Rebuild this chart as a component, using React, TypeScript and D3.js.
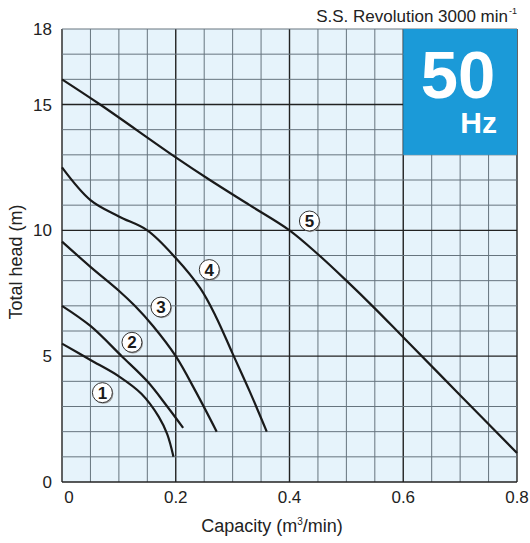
import React from 'react';
import * as d3 from 'd3';

// axis ticks
const capacityTicks = [0, 0.2, 0.4, 0.6, 0.8];
const headTicks = [0, 5, 10, 15, 18];

// pump curves: [capacity m3/min, total head m]
const curve1: [number, number][] = [[0, 5.5], [0.05, 4.85], [0.1, 4.2], [0.14, 3.5], [0.17, 2.6], [0.185, 1.9], [0.196, 1.0]];
const curve2: [number, number][] = [[0, 7.0], [0.05, 6.2], [0.105, 5.0], [0.15, 4.0], [0.185, 3.0], [0.213, 2.15]];
const curve3: [number, number][] = [[0, 9.55], [0.05, 8.55], [0.1, 7.6], [0.128, 7.0], [0.16, 6.2], [0.2, 5.0], [0.235, 3.6], [0.272, 2.0]];
const curve4: [number, number][] = [[0, 12.5], [0.05, 11.2], [0.1, 10.55], [0.15, 10.0], [0.2, 8.9], [0.243, 7.7], [0.27, 6.6], [0.3, 5.1], [0.33, 3.6], [0.36, 2.0]];
const curve5: [number, number][] = [[0, 16.0], [0.067, 15.0], [0.2, 12.9], [0.26, 12.0], [0.33, 11.0], [0.4, 10.0], [0.45, 9.05], [0.5, 8.0], [0.55, 6.9], [0.6, 5.75], [0.7, 3.45], [0.8, 1.15]];
const curves = [curve1, curve2, curve3, curve4, curve5];

// curve number markers
const markerLabels = ['1', '2', '3', '4', '5'];
const markerQ = [0.071, 0.123, 0.174, 0.259, 0.435];
const markerH = [3.55, 5.55, 6.95, 8.44, 10.37];

const W = 530, H = 543;
const m = { left: 62, top: 29, right: 13, bottom: 61 };

export default function App() {
  const x = d3.scaleLinear().domain([0, 0.8]).range([m.left, W - m.right]);
  const y = d3.scaleLinear().domain([0, 18]).range([H - m.bottom, m.top]);
  const line = d3.line<[number, number]>()
    .x(d => x(d[0])).y(d => y(d[1]))
    .curve(d3.curveCatmullRom.alpha(0.5));

  const xGrid = d3.range(0, 17).map(i => i * 0.05);
  const yGrid = d3.range(0, 19);
  const font = 'Liberation Sans, Arial, sans-serif';

  return (
    <svg width={W} height={H} style={{ position: 'absolute', left: 0, top: 0, background: '#fff' }} fontFamily={font}>
      <rect x={x(0)} y={y(18)} width={x(0.8) - x(0)} height={y(0) - y(18)} fill="#e6f3fb" />
      {xGrid.map((v, i) => (
        <line key={'vx' + i} x1={x(v)} x2={x(v)} y1={y(0)} y2={y(18)}
          stroke={i % 4 === 0 ? '#222' : '#66747e'} strokeWidth={i % 4 === 0 ? 1.4 : 1} />
      ))}
      {yGrid.map(v => (
        <line key={'hy' + v} x1={x(0)} x2={x(0.8)} y1={y(v)} y2={y(v)}
          stroke={v % 5 === 0 ? '#222' : '#66747e'} strokeWidth={v % 5 === 0 ? 1.4 : 1} />
      ))}

      {/* 50 Hz badge */}
      <rect x={x(0.6)} y={y(18)} width={x(0.8) - x(0.6)} height={y(13) - y(18)} fill="#1b9ad8" />
      <text x={x(0.7) - 2} y={98} fill="#fff" fontSize={67} fontWeight="bold" textAnchor="middle">50</text>
      <text x={497} y={133} fill="#fff" fontSize={30} fontWeight="bold" textAnchor="end">Hz</text>

      {curves.map((c, i) => (
        <path key={'c' + i} d={line(c) || ''} fill="none" stroke="#1a1a1a" strokeWidth={2.2} />
      ))}
      {markerLabels.map((t, i) => (
        <g key={'m' + t} transform={`translate(${x(markerQ[i])},${y(markerH[i])})`}>
          <circle cx={1} cy={1.2} r={10} fill="#9a9a9a" />
          <circle r={10} fill="#fff" stroke="#333" strokeWidth={1} />
          <text y={6} textAnchor="middle" fontSize={17} fontWeight="bold" fill="#1a1a1a">{t}</text>
        </g>
      ))}

      {headTicks.map(v => (
        <text key={'yt' + v} x={52} y={y(v) + 6} textAnchor="end" fontSize={17} fill="#222">{v}</text>
      ))}
      {capacityTicks.map(v => (
        <text key={'xt' + v} x={v === 0 ? x(v) + 7 : x(v)} y={503} textAnchor="middle" fontSize={17} fill="#222">{v === 0 ? '0' : v.toFixed(1)}</text>
      ))}
      <text x={272} y={532} textAnchor="middle" fontSize={18} fill="#222">
        Capacity (m<tspan dy={-7} fontSize={10}>3</tspan><tspan dy={7}>/min)</tspan>
      </text>
      <text transform="translate(22,262) rotate(-90)" textAnchor="middle" fontSize={18} fill="#222">Total head (m)</text>
      <text x={508} y={22} textAnchor="end" fontSize={17} fill="#222">S.S. Revolution 3000 min</text>
      <text x={509} y={14} fontSize={9} fill="#222">-1</text>
    </svg>
  );
}
